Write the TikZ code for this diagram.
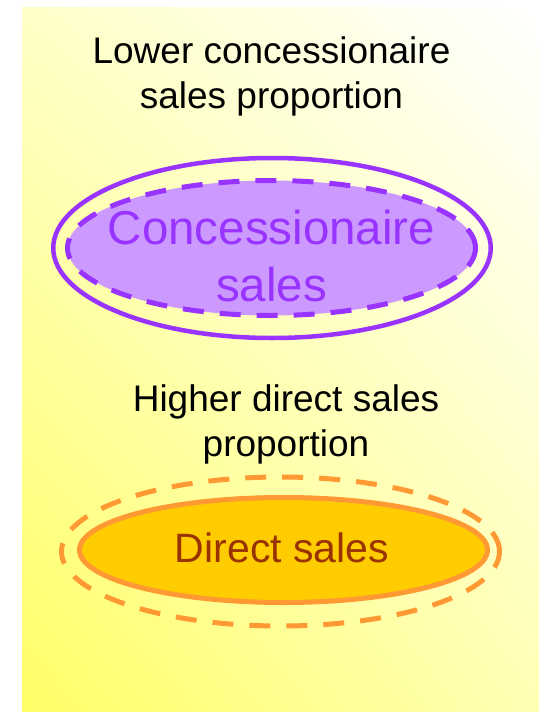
\documentclass[tikz,border=0pt]{standalone}
\usepackage{fontspec}
\setmainfont{Liberation Sans}
\usetikzlibrary{shapes.geometric,shadings}
\definecolor{ylwdeep}{HTML}{FFFF66}
\definecolor{ylwpale}{HTML}{FFFFC8}
\definecolor{ylwmid}{HTML}{FFFFB4}
\definecolor{concline}{HTML}{9933FF}
\definecolor{concfill}{HTML}{CC99FF}
\definecolor{dirline}{HTML}{FF9933}
\definecolor{dirfill}{HTML}{FFCC00}
\definecolor{dirtext}{HTML}{993300}
\begin{document}
\begin{tikzpicture}[x=1pt, y=-1pt,
  oval/.style={ellipse,inner sep=0pt,outer sep=0pt},
  note/.style={align=center,inner sep=0pt,font=\fontsize{37}{45}\selectfont}]
\useasboundingbox (0,0) rectangle (539,712);
% background panel
\shade[lower left=ylwdeep, upper right=white, upper left=ylwpale, lower right=ylwmid] (22,7) rectangle (539,712);

% concessionaire channel
\node[note] (lower) at (271.5,76) {Lower concessionaire\\sales proportion};
\node[oval,draw=concline,line width=4.5pt,minimum width=437.5pt,minimum height=180pt] (concring) at (272,248) {};
\node[oval,fill=concfill,draw=concline,line width=5pt,dash pattern=on 21pt off 16pt,
  minimum width=408pt,minimum height=135pt] (conc) at (271.5,248) {};
\node[align=center,inner sep=0pt,text=concline,font=\fontsize{47.5}{57}\selectfont] (conctext) at (271.5,256) {Concessionaire\\sales};

% direct channel
\node[note] (higher) at (286,424) {Higher direct sales\\proportion};
\node[oval,draw=dirline,line width=5pt,dash pattern=on 21pt off 16pt,
  minimum width=438pt,minimum height=149pt] (dirring) at (280.5,551.5) {};
\node[oval,fill=dirfill,draw=dirline,line width=5pt,minimum width=408pt,minimum height=105pt] (dir) at (283.5,550) {};
\node[inner sep=0pt,text=dirtext,font=\fontsize{41}{49}\selectfont] (dirtext) at (282,548) {Direct sales};
\end{tikzpicture}
\end{document}
